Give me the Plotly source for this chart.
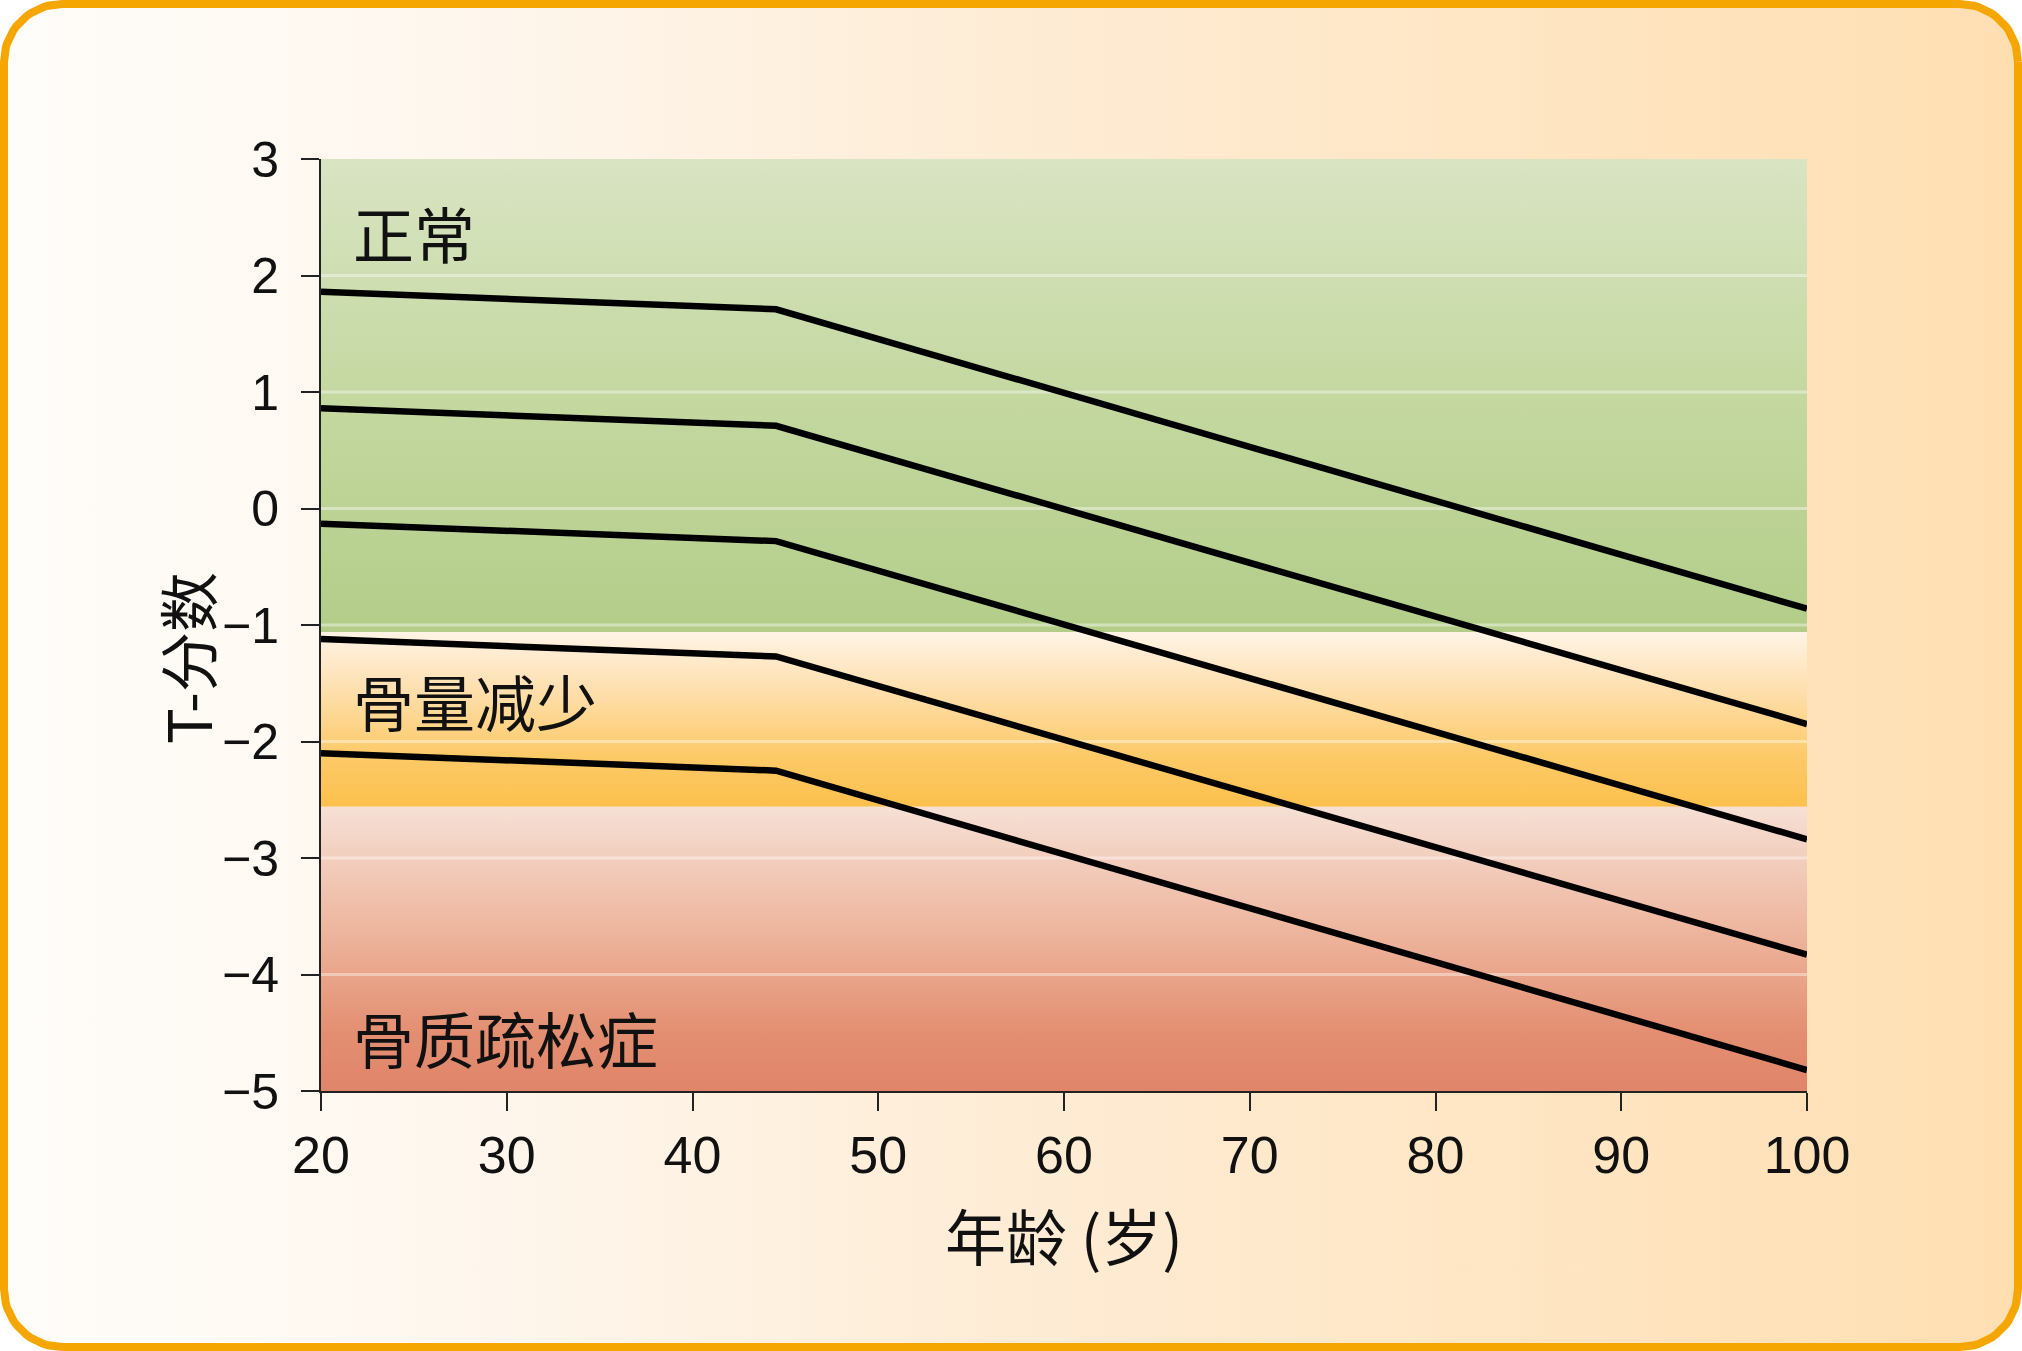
import numpy as np
import plotly.graph_objects as go

# ---------------- data ----------------
age_knots = [20, 44.5, 100]
curve_1 = [1.86, 1.71, -0.86]
curve_2 = [0.86, 0.71, -1.85]
curve_3 = [-0.13, -0.28, -2.84]
curve_4 = [-1.12, -1.27, -3.83]
curve_5 = [-2.10, -2.25, -4.82]
curves = [curve_1, curve_2, curve_3, curve_4, curve_5]

zone_names = ["正常", "骨量减少", "骨质疏松症"]
zone_top = [3, -1.06, -2.56]
zone_bottom = [-1.06, -2.56, -5]
zone_label_x = [21.6, 21.6, 21.6]
zone_label_y = [2.37, -1.65, -4.54]

x_ticks = [20, 30, 40, 50, 60, 70, 80, 90, 100]
y_ticks = [3, 2, 1, 0, -1, -2, -3, -4, -5]
x_title = "年龄 (岁)"
y_title = "T-分数"

# ---------------- styling ----------------
W, H = 2022, 1351
plot_l, plot_r, plot_t, plot_b = 321, 1807, 159, 1091
LATIN = "Liberation Sans, Arial, Noto Sans CJK SC, sans-serif"
CJK = "Noto Sans CJK SC, Liberation Sans, sans-serif"

zone_scales = [
    [[0, "#B3CD89"], [0.5, "#C4D8A0"], [1, "#D9E4C3"]],
    [[0, "#FCC04C"], [0.3, "#FDCA69"], [0.7, "#FEE1B3"], [1, "#FFF4E6"]],
    [[0, "#E0856A"], [0.2, "#E38E71"], [0.55, "#EDB49C"], [1, "#F6E0D5"]],
]

fig = go.Figure()

# ---- page background: rounded panel with horizontal gradient ----
inset = 4
r = 58
x0, x1 = inset, W - inset
y0, y1 = inset, H - inset
pts = []
for cx, cy, a0 in [(x1 - r, y1 - r, 0), (x0 + r, y1 - r, 90), (x0 + r, y0 + r, 180), (x1 - r, y0 + r, 270)]:
    for a in np.linspace(a0, a0 + 90, 20):
        pts.append((cx + r * np.cos(np.radians(a)), cy + r * np.sin(np.radians(a))))
pts.append(pts[0])
bx = [p[0] / W for p in pts]
by = [p[1] / H for p in pts]
fig.add_trace(go.Scatter(
    x=bx, y=by, mode="lines", fill="toself",
    line=dict(color="#F6A600", width=8),
    fillgradient=dict(type="horizontal",
                      colorscale=[[0, "#FFFDFA"], [0.25, "#FEF6EC"], [0.5, "#FEECD5"], [1, "#FFDFB2"]]),
    hoverinfo="skip", showlegend=False, xaxis="x", yaxis="y"))

# ---- zones ----
for name, top, bot, cs in zip(zone_names, zone_top, zone_bottom, zone_scales):
    fig.add_trace(go.Scatter(
        x=[x_ticks[0], x_ticks[-1], x_ticks[-1], x_ticks[0], x_ticks[0]],
        y=[top, top, bot, bot, top],
        mode="lines", fill="toself", line=dict(width=0),
        fillgradient=dict(type="vertical", colorscale=cs),
        hoverinfo="skip", showlegend=False, xaxis="x2", yaxis="y2"))

# ---- faint grid lines ----
for yv in y_ticks[1:-1]:
    fig.add_trace(go.Scatter(
        x=[x_ticks[0], x_ticks[-1]], y=[yv, yv], mode="lines",
        line=dict(color="rgba(255,255,255,0.4)", width=3),
        hoverinfo="skip", showlegend=False, xaxis="x2", yaxis="y2"))

# ---- curves ----
for c in curves:
    fig.add_trace(go.Scatter(
        x=age_knots, y=c, mode="lines",
        line=dict(color="#000000", width=6.5),
        hoverinfo="skip", showlegend=False, xaxis="x2", yaxis="y2"))

# ---- zone labels ----
for name, lx, ly in zip(zone_names, zone_label_x, zone_label_y):
    fig.add_annotation(x=lx, y=ly, xref="x2", yref="y2", text=name,
                       showarrow=False, xanchor="left", yanchor="middle",
                       font=dict(family=CJK, size=61, color="#111111"))

# ---- axis titles ----
fig.add_annotation(x=1064 / W, y=1 - 1234 / H, xref="paper", yref="paper",
                   text=x_title, showarrow=False, xanchor="center", yanchor="middle",
                   font=dict(family=CJK, size=61, color="#111111"))
fig.add_annotation(x=186 / W, y=1 - 658 / H, xref="paper", yref="paper",
                   text=y_title, showarrow=False, textangle=-90,
                   xanchor="center", yanchor="middle",
                   font=dict(family=CJK, size=60, color="#111111"))

fig.update_layout(
    template="none",
    width=W, height=H,
    margin=dict(l=0, r=0, t=0, b=0, pad=0, autoexpand=False),
    paper_bgcolor="#FFFFFF", plot_bgcolor="rgba(0,0,0,0)",
    showlegend=False,
    xaxis=dict(domain=[0, 1], range=[0, 1], visible=False, fixedrange=True, automargin=False),
    yaxis=dict(domain=[0, 1], range=[0, 1], visible=False, fixedrange=True, automargin=False),
    xaxis2=dict(domain=[plot_l / W, plot_r / W], anchor="y2", automargin=False,
                range=[x_ticks[0], x_ticks[-1]], tickvals=x_ticks,
                showgrid=False, zeroline=False, showline=True,
                linecolor="#222222", linewidth=2,
                ticks="outside", ticklen=18, tickwidth=2, tickcolor="#222222",
                ticklabelstandoff=0,
                tickfont=dict(family=LATIN, size=52, color="#111111")),
    yaxis2=dict(domain=[1 - plot_b / H, 1 - plot_t / H], anchor="x2", automargin=False,
                range=[y_ticks[-1], y_ticks[0]], tickvals=y_ticks,
                showgrid=False, zeroline=False, showline=True,
                linecolor="#222222", linewidth=2,
                ticks="outside", ticklen=18, tickwidth=2, tickcolor="#222222",
                ticklabelstandoff=12,
                tickfont=dict(family=LATIN, size=50, color="#111111")),
)

fig.write_html("out.html", config=dict(displayModeBar=False),
               post_script="document.body.style.margin='0';document.body.style.overflow='hidden';")
